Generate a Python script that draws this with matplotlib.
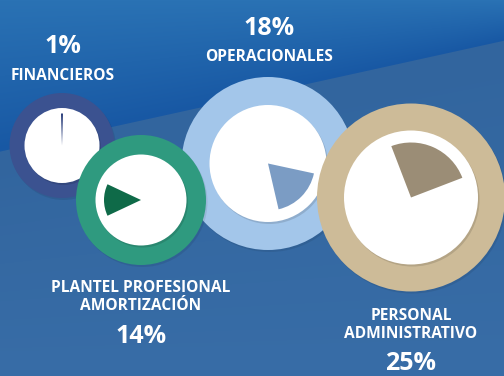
import numpy as np
import matplotlib.pyplot as plt
from matplotlib.patches import Circle

# datos
categorias = ['FINANCIEROS', 'PLANTEL PROFESIONAL\nAMORTIZACIÓN',
              'OPERACIONALES', 'PERSONAL\nADMINISTRATIVO']
porcentajes = [1, 14, 18, 25]

# disposicion (pixeles, y medido desde arriba)
W, H = 504, 376
centros = [(62, 145.5), (141, 200), (268, 163.5), (411, 197.5)]
r_anillo = [52.5, 65, 86.5, 94]
r_blanco = [37.5, 45.5, 58.5, 67]
r_cuna = [32, 37, 47, 55]
inicio = [88.2, 154.8, -77, 21]
col_anillo = ['#3b5290', '#2f9a7f', '#a3c6ea', '#cdbb98']
col_cuna = ['#2b3f7c', '#0f6a48', '#7b9cc4', '#9b8d76']
orden = [0, 2, 1, 3]

# textos: base del porcentaje y de la primera linea del nombre
txt_x = [63, 141, 269, 411]
pct_base = [53.3, 343.3, 35, 370]
nom_base = [80, 291.7, 60.7, 320]
interlinea = 18.3

fig = plt.figure(figsize=(W / 100, H / 100), dpi=100)
ax = fig.add_axes([0, 0, 1, 1])

# fondo azul con banda diagonal
yy, xx = np.mgrid[0:H, 0:W].astype(float)
linea = 151 - 0.22 * xx
sup_a = np.array([42, 114, 180]) / 255
sup_b = np.array([24, 88, 164]) / 255
inf_a = np.array([50, 101, 158]) / 255
inf_b = np.array([56, 109, 167]) / 255
t1 = np.clip(yy / np.maximum(linea, 1), 0, 1)[..., None]
t2 = np.clip((yy - linea) / (H - linea), 0, 1)[..., None]
sup = sup_a * (1 - t1) + sup_b * t1
inf = inf_a * (1 - t2) + inf_b * t2
m = np.clip(yy - linea + 0.5, 0, 1)[..., None]
fondo = sup * (1 - m) + inf * m
ax.imshow(fondo, extent=[0, W, 0, H], origin='upper', zorder=0, interpolation='bilinear')

z = 1
for i in orden:
    cx, cy = centros[i][0], H - centros[i][1]
    ax.add_patch(Circle((cx + 1.5, cy - 2), r_anillo[i], color='black', alpha=0.08, lw=0, zorder=z))
    ax.add_patch(Circle((cx, cy), r_anillo[i], color=col_anillo[i], lw=0, zorder=z + 0.1))
    ax.add_patch(Circle((cx + 1.5, cy - 2), r_blanco[i], color='black', alpha=0.12, lw=0, zorder=z + 0.2))
    ax.add_patch(Circle((cx, cy), r_blanco[i], color='white', lw=0, zorder=z + 0.3))
    p = porcentajes[i]
    ax.pie([p, 100 - p], radius=r_cuna[i], center=(cx, cy), startangle=inicio[i],
           colors=[col_cuna[i], 'none'], wedgeprops=dict(linewidth=0, zorder=z + 0.4))
    z += 1

for i in range(len(categorias)):
    ax.text(txt_x[i], H - pct_base[i], f'{porcentajes[i]}%', color='white', fontsize=18,
            fontfamily='Open Sans', fontweight='bold', ha='center', va='baseline', zorder=10)
    for k, lin in enumerate(categorias[i].split('\n')):
        ax.text(txt_x[i], H - (nom_base[i] + k * interlinea), lin, color='white', fontsize=11.2,
                fontfamily='Open Sans', fontweight='bold', ha='center', va='baseline', zorder=10)

ax.set_xlim(0, W)
ax.set_ylim(0, H)
ax.set_aspect('auto')
ax.axis('off')
fig.savefig('out.png', dpi=100)
